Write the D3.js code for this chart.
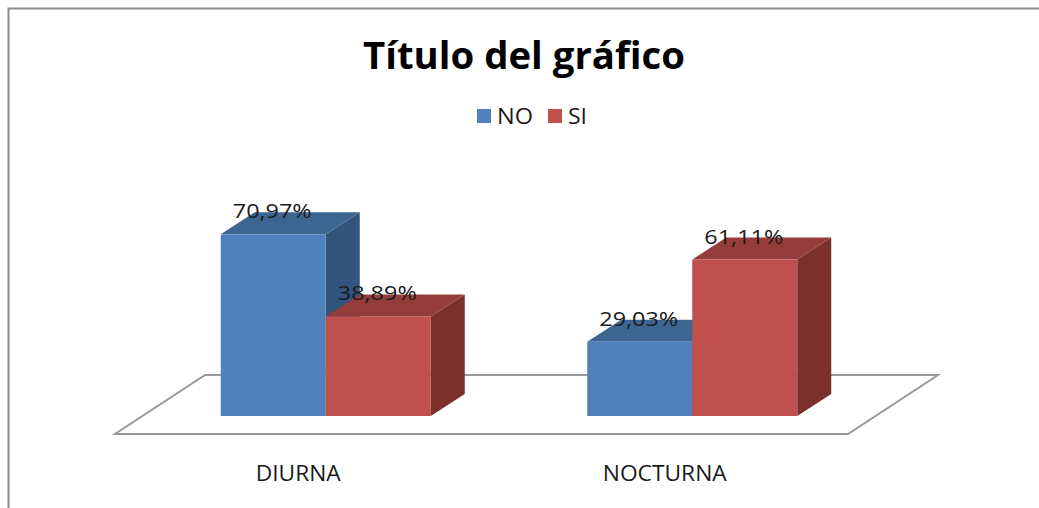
<!DOCTYPE html>
<html>
<head>
    <meta charset="utf-8">
    <style>
        body { margin: 0; background: #fff; }
        svg { display: block; }
        text { font-family: 'Open Sans', Lato, sans-serif; }
    </style>
</head>
<body>
    <svg width="1039" height="508"></svg>

<script src="https://d3js.org/d3.v7.min.js"></script>
<script>
    // data
    let categories = ["DIURNA", "NOCTURNA"]
    let series = ["NO", "SI"]
    let valuesNO = [70.97, 29.03]
    let valuesSI = [38.89, 61.11]
    let labelsNO = ["70,97%", "29,03%"]
    let labelsSI = ["38,89%", "61,11%"]

    let colors = {
        NO: { front: "#4f81bd", top: "#3d6592", side: "#32547d" },
        SI: { front: "#c0504d", top: "#933c3a", side: "#7b302e" }
    }

    let data = []
    categories.forEach((c, i) => {
        data.push({ cat: c, key: "NO", value: valuesNO[i], label: labelsNO[i] })
        data.push({ cat: c, key: "SI", value: valuesSI[i], label: labelsSI[i] })
    })

    let svg = d3.select("svg")

    // chart border (only top + left visible in the crop)
    svg.append("rect")
        .attr("x", 8.5).attr("y", 8.5)
        .attr("width", 1100).attr("height", 600)
        .style("fill", "none")
        .style("stroke", "#8c8c8c")
        .style("stroke-width", 2)

    // title
    svg.append("text")
        .attr("x", 524).attr("y", 69)
        .attr("text-anchor", "middle")
        .attr("textLength", 322)
        .attr("lengthAdjust", "spacingAndGlyphs")
        .style("font-size", "38px")
        .style("font-weight", "bold")
        .style("fill", "#000")
        .text("Título del gráfico")

    // legend
    let legendX = { NO: 477, SI: 548 }
    let legendW = { NO: 36, SI: 19 }
    let legend = svg.selectAll(".legend")
        .data(series)
        .join("g")
        .attr("class", "legend")
        .attr("transform", d => `translate(${legendX[d]},109)`)
    legend.append("rect")
        .attr("width", 14).attr("height", 14)
        .style("fill", d => colors[d].front)
    legend.append("text")
        .attr("x", 20).attr("y", 15)
        .attr("textLength", d => legendW[d])
        .attr("lengthAdjust", "spacingAndGlyphs")
        .style("font-size", "21px")
        .style("fill", "#1a1a1a")
        .text(d => d)

    // scales (front plane of the bars)
    let y = d3.scaleLinear().domain([0, 100]).range([416, 160])
    let x0 = d3.scaleBand().domain(categories).range([142.5, 875.5])
    let x1 = d3.scaleBand().domain(series).range([0, x0.bandwidth()]).paddingOuter(0.745)

    // depth vectors
    let depth = [34, -22]
    let floorFront = [-27.5, 18]
    let floorBack = [62.5, -41]

    let [fx0, fx1] = x0.range()
    let base = y(0)
    let floorPts = [
        [fx0 + floorFront[0], base + floorFront[1]],
        [fx1 + floorFront[0], base + floorFront[1]],
        [fx1 + floorBack[0], base + floorBack[1]],
        [fx0 + floorBack[0], base + floorBack[1]]
    ]
    svg.append("polygon")
        .attr("points", floorPts.map(p => p.join(",")).join(" "))
        .style("fill", "#fff")
        .style("stroke", "#9a9a9a")
        .style("stroke-width", 2)

    // bars
    let bars = svg.selectAll(".bar")
        .data(data)
        .join("g")
        .attr("class", "bar")

    let pts = arr => arr.map(p => p.join(",")).join(" ")

    bars.each(function (d) {
        let g = d3.select(this)
        let xl = x0(d.cat) + x1(d.key)
        let xr = xl + x1.bandwidth()
        let yt = y(d.value)
        let [dx, dy] = depth
        // side
        g.append("polygon")
            .attr("points", pts([[xr, yt], [xr + dx, yt + dy], [xr + dx, base + dy], [xr, base]]))
            .style("fill", colors[d.key].side)
        // top
        g.append("polygon")
            .attr("points", pts([[xl, yt], [xl + dx, yt + dy], [xr + dx, yt + dy], [xr, yt]]))
            .style("fill", colors[d.key].top)
        // front
        g.append("rect")
            .attr("x", xl).attr("y", yt)
            .attr("width", xr - xl).attr("height", base - yt)
            .style("fill", colors[d.key].front)
    })

    // value labels
    svg.selectAll(".val")
        .data(data)
        .join("text")
        .attr("class", "val")
        .attr("x", d => x0(d.cat) + x1(d.key) + x1.bandwidth() / 2 - 1)
        .attr("y", d => y(d.value) - 16)
        .attr("text-anchor", "middle")
        .attr("textLength", 79)
        .attr("lengthAdjust", "spacingAndGlyphs")
        .style("font-size", "20px")
        .style("fill", "#1a1a1a")
        .text(d => d.label)

    // category labels (on floor front edge)
    let catWidth = { DIURNA: 85, NOCTURNA: 124 }
    svg.selectAll(".cat")
        .data(categories)
        .join("text")
        .attr("class", "cat")
        .attr("x", d => x0(d) + x0.bandwidth() / 2 + floorFront[0])
        .attr("y", 481)
        .attr("text-anchor", "middle")
        .attr("textLength", d => catWidth[d])
        .attr("lengthAdjust", "spacingAndGlyphs")
        .style("font-size", "21px")
        .style("fill", "#1a1a1a")
        .text(d => d)
</script>
</body>
</html>
